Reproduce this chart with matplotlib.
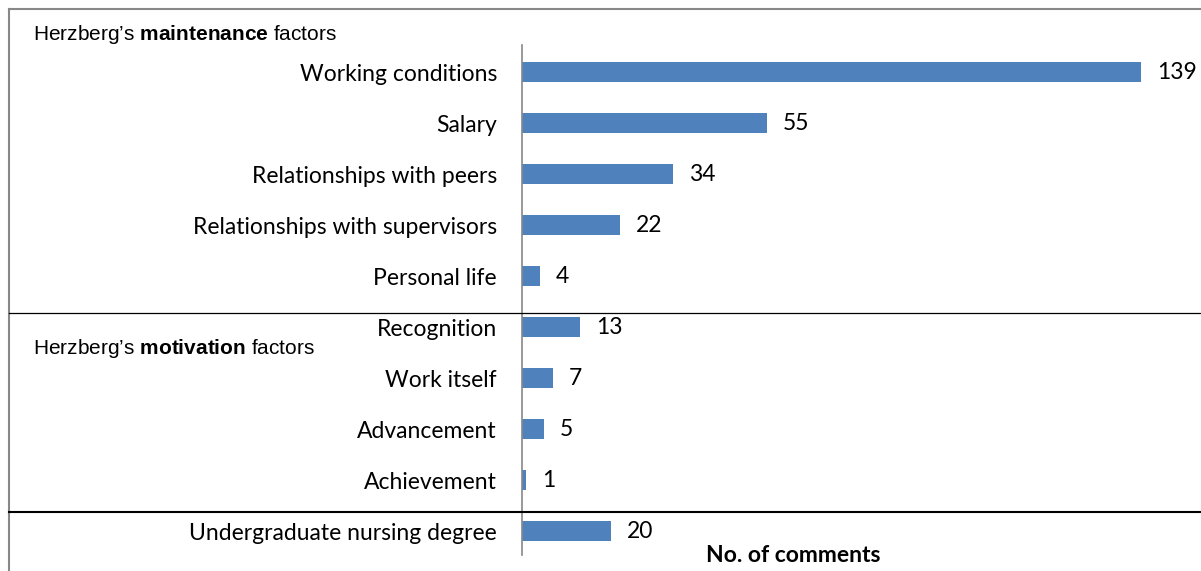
import matplotlib.pyplot as plt
from matplotlib.lines import Line2D

categories = ['Working conditions', 'Salary', 'Relationships with peers',
              'Relationships with supervisors', 'Personal life', 'Recognition',
              'Work itself', 'Advancement', 'Achievement',
              'Undergraduate nursing degree']
values = [139, 55, 34, 22, 4, 13, 7, 5, 1, 20]
positions = [0, 1, 2, 3, 4, 5, 6, 7, 8, 9]

plt.rcParams['mathtext.fontset'] = 'custom'
plt.rcParams['mathtext.rm'] = 'Liberation Sans'
plt.rcParams['mathtext.bf'] = 'Liberation Sans:bold'

W, H = 1201, 571
fig = plt.figure(figsize=(W / 100, H / 100), dpi=100)

# axes: left spine at x=522px, rows 51px apart starting at y=72px
ax = fig.add_axes([522 / W, 1 - 555 / H, (W - 522) / W, 510 / H])
ax.barh(positions, values, height=0.4, color='#4F81BD')
ax.set_ylim(9.47, -0.53)
ax.set_xlim(0, (W - 522) / 4.453)
ax.set_yticks(positions)
ax.set_yticklabels(categories, fontsize=16.5, family='Lato')
ax.tick_params(axis='y', length=0, pad=18)
ax.set_xticks([])
for s in ['top', 'right', 'bottom']:
    ax.spines[s].set_visible(False)
ax.spines['left'].set_color('#888888')
ax.spines['left'].set_linewidth(1.2)

for p, v in zip(positions, values):
    ax.annotate(str(v), (v, p), xytext=(11.5, 0), textcoords='offset points',
                va='center', ha='left', fontsize=16.5, family='Lato')

# figure decorations
fig.add_artist(Line2D([9 / W, 1], [1 - 9 / H, 1 - 9 / H], color='#888888', lw=1.5))
fig.add_artist(Line2D([9 / W, 9 / W], [0, 1 - 9 / H], color='#888888', lw=1.5))
fig.add_artist(Line2D([9 / W, 1], [1 - 313 / H, 1 - 313 / H], color='black', lw=0.9))
fig.add_artist(Line2D([9 / W, 1], [1 - 512 / H, 1 - 512 / H], color='black', lw=1.5))

fig.text(33 / W, 1 - 35 / H, r"Herzberg’s $\mathbf{maintenance}$ factors",
         fontsize=15, family='Liberation Sans', va='center', ha='left')
fig.text(33 / W, 1 - 348 / H, r"Herzberg’s $\mathbf{motivation}$ factors",
         fontsize=15, family='Liberation Sans', va='center', ha='left')
fig.text(793 / W, 1 - 556 / H, 'No. of comments', fontsize=16.5, family='Lato',
         fontweight='bold', ha='center', va='center')

fig.savefig('out.png', dpi=100)
